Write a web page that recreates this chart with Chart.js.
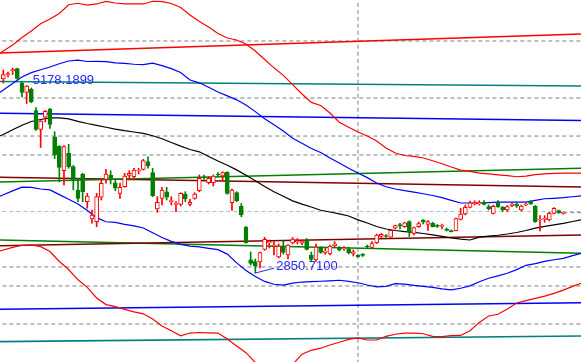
<!DOCTYPE html>
<html>
<head>
<meta charset="utf-8">
<script src="https://cdn.jsdelivr.net/npm/chart.js@4.4.0/dist/chart.umd.min.js"></script>
<style>
html, body { margin: 0; padding: 0; background: #fff; }
canvas { display: block; }
</style>
</head>
<body>
<canvas id="myChart" width="581" height="362"></canvas>
<script>
// daily candles (index 0 .. 120)
const opens = [5053,5099,5144,5172,5008,4900,4940,4694,4482,4619,4713,4398,4293,4013,4210,4058,3794,3975,3661,3464,
  3434,3711,3915,3964,3876,3756,3831,3960,3944,4009,4028,4115,3990,3578,3699,3774,3661,3631,3631,3748,
  3631,3699,3786,3941,3876,3876,3972,3952,3994,3649,3765,3612,3374,3002,2980,2976,3120,3192,3158,3033,
  3147,3056,3192,3203,3189,3220,3056,2999,3132,3086,3067,3161,3141,3127,3120,3075,3056,3056,3158,3143,
  3195,3266,3277,3257,3359,3402,3377,3434,3300,3377,3453,3404,3416,3391,3381,3351,3332,3332,3461,3521,
  3597,3638,3635,3654,3604,3529,3646,3597,3567,3615,3635,3567,3623,3661,3612,3453,3461,3453,3529,3559,3529];
const highs = [5156,5133,5178.1899,5176,5025,4980,4951,4728,4582,4696,4721,4455,4296,4299,4312,4072,3926,3983,3756,3567,
  3756,3915,4028,4013,3915,3870,3983,4013,4040,4040,4142,4171,4040,3718,3824,3824,3718,3661,3763,3774,
  3688,3763,3964,3964,3944,3964,3990,4001,4001,3805,3774,3640,3377,3090,3010,3090,3257,3226,3209,3181,
  3215,3175,3254,3243,3226,3243,3090,3181,3150,3132,3169,3207,3152,3150,3143,3113,3061,3073,3169,3209,
  3294,3300,3288,3340,3396,3416,3427,3445,3374,3430,3459,3445,3427,3402,3408,3362,3340,3476,3586,3623,
  3669,3672,3672,3672,3623,3623,3674,3606,3618,3642,3652,3623,3652,3674,3618,3502,3502,3540,3593,3567,3544];
const lows = [5008,5076,5104,5048,4849,4775,4784,4469,4276,4565,4492,4151,3884,3850,4040,3794,3661,3661,3586,3416,
  3377,3680,3870,3862,3786,3699,3824,3907,3907,3975,4020,4040,3718,3540,3623,3680,3623,3547,3612,3661,
  3612,3688,3774,3915,3862,3839,3944,3907,3745,3561,3661,3490,3189,2942,2850.71,2908,3109,3135,3056,3022,
  3067,3010,3181,3181,3169,3113,2982,2982,3075,3064,3056,3150,3101,3107,3067,3044,3030,3039,3129,3132,
  3186,3254,3254,3254,3351,3351,3370,3266,3283,3368,3408,3334,3374,3368,3351,3328,3317,3328,3453,3510,
  3589,3623,3623,3623,3567,3521,3595,3549,3549,3604,3595,3555,3615,3631,3427,3328,3427,3442,3521,3529,3518];
const closes = [5104,5116,5161,5061,4900,4974,4796,4482,4577,4685,4537,4191,4051,4287,4058,3907,3699,3774,3725,3510,
  3718,3870,3975,3933,3813,3824,3952,3983,4020,4020,4126,4066,3729,3654,3794,3711,3672,3642,3756,3691,
  3654,3748,3926,3933,3926,3952,3964,3990,3756,3794,3672,3510,3195,2961,2931,3084,3234,3207,3166,3158,
  3084,3169,3237,3220,3207,3120,3005,3147,3086,3101,3158,3181,3113,3135,3082,3093,3033,3052,3147,3186,
  3283,3291,3266,3336,3391,3385,3422,3320,3368,3411,3427,3434,3377,3381,3391,3336,3320,3470,3521,3597,
  3649,3654,3649,3631,3578,3608,3604,3567,3604,3635,3612,3612,3635,3635,3434,3464,3472,3529,3586,3532,3536];

// band curves, read every 2nd candle
const bandIdx = [-2,0,2,4,6,8,10,12,14,16,18,20,22,24,26,28,30,32,34,36,38,40,42,44,46,48,50,52,54,56,58,60,
  62,64,66,68,70,72,74,76,78,80,82,84,86,88,90,92,94,96,98,100,102,104,106,108,110,112,114,116,118,120,122,124];
const upperOuter = [5303,5371,5439,5524,5598,5681,5734,5797,5896,5913,5893,5905,5935,5916,5905,5905,5905,5936,5932,5910,
  5865,5780,5706,5644,5570,5519,5496,5451,5371,5274,5180,5095,4990,4883,4788,4753,4667,4562,4505,4452,
  4406,4350,4270,4213,4185,4175,4157,4126,4092,4055,4019,4004,3986,3976,3966,3956,3944,3951,3967,3977,3983,3986,3986,3986];
const upperBand = [4860,4928,5002,5076,5126,5158,5190,5227,5258,5267,5252,5254,5250,5237,5230,5221,5216,5234,5205,5171,
  5127,5042,5010,4959,4906,4862,4817,4758,4683,4602,4534,4463,4380,4325,4265,4220,4157,4099,4041,3986,
  3934,3873,3830,3805,3786,3770,3751,3731,3707,3675,3646,3646,3646,3650,3656,3657,3657,3657,3675,3694,3699,3706,3717,3728];
const midLine = [4378,4423,4477,4529,4571,4594,4611,4611,4600,4572,4548,4528,4506,4485,4467,4452,4437,4409,4375,4333,
  4291,4253,4227,4173,4122,4074,4022,3961,3898,3834,3774,3722,3670,3633,3601,3564,3544,3522,3498,3455,
  3419,3379,3351,3334,3322,3312,3300,3284,3268,3249,3235,3226,3258,3269,3280,3294,3311,3334,3360,3381,3397,3414,3436,3458];
const lowerBand = [3697,3740,3783,3825,3824,3805,3794,3741,3688,3635,3560,3480,3433,3425,3403,3386,3362,3308,3254,3210,
  3176,3156,3147,3132,3116,3066,2966,2880,2812,2756,2724,2715,2737,2749,2754,2758,2763,2769,2757,2741,
  2715,2693,2699,2731,2725,2711,2700,2688,2672,2660,2678,2706,2752,2792,2818,2849,2890,2939,2958,2983,3002,3018,3048,3078];
const lowerOuter = [3084,3112,3142,3166,3169,3150,3095,2982,2891,2774,2689,2568,2493,2470,2439,2411,2388,2329,2250,2197,
  2139,2170,2176,2173,2170,2103,2022,1947,1836,1762,1728,1739,1813,1930,1974,1998,2034,2066,2098,2114,
  2091,2091,2132,2156,2170,2170,2162,2133,2130,2141,2143,2197,2291,2363,2383,2443,2511,2538,2564,2589,2620,2657,2700,2738];

// straight channel lines: value at first and last index
const lineIdx = [-1, 124];
const redLine = [5348, 5564];
const tealLine = [5025, 4974];
const blueLine = [4664, 4582];
const greenLine = [3884, 4040];
const maroonLine = [3938, 3828];
const maroonLine2 = [3161, 3283];
const greenLine2 = [3226, 3075];
const blueLine2 = [2439, 2514];
const tealLine2 = [2072, 2136];

// dashed price levels and the vertical marker
const grayLevels = [5485, 4838, 4406, 4191, 2920, 2704, 2273];
const blueLevel = 3550;
const markerIdx = 76;

// visible window
const xMin = -0.71, xMax = 123.79;
const yMin = 1841.3, yMax = 5950;

const UP = '#ff0000', DOWN = '#008000';
const idx = opens.map((_, i) => i);
const isUp = idx.map(i => closes[i] >= opens[i]);

function pts(xs, ys) {
    return xs.map((x, i) => ({x: x, y: ys[i]}));
}

function line(label, data, color, width, dash, order) {
    return {
        type: 'line', label: label, data: data,
        borderColor: color, borderWidth: width, borderDash: dash || [],
        pointRadius: 0, tension: 0, fill: false, order: order
    };
}

const last = closes.length - 1;
const datasets = [
    {
        type: 'bar', label: 'body', order: 0, grouped: false,
        data: idx.map(i => ({x: i, y: [opens[i], closes[i]]})),
        barThickness: 4, borderWidth: 1, borderSkipped: false, minBarLength: 1,
        backgroundColor: isUp.map(u => u ? '#ffffff' : DOWN),
        borderColor: isUp.map(u => u ? UP : DOWN)
    },
    {
        type: 'bar', label: 'wick', order: 1, grouped: false,
        data: idx.map(i => ({x: i, y: [lows[i], highs[i]]})),
        barThickness: 1, borderWidth: 0,
        backgroundColor: isUp.map(u => u ? UP : DOWN)
    },
    line('upperOuter', pts(bandIdx, upperOuter), '#ff0000', 1.2, null, 2),
    line('upperBand', pts(bandIdx, upperBand), '#0000ff', 1.2, null, 2),
    line('mid', pts(bandIdx, midLine), '#000000', 1.2, null, 2),
    line('lowerBand', pts(bandIdx, lowerBand), '#0000ff', 1.2, null, 2),
    line('lowerOuter', pts(bandIdx, lowerOuter), '#ff0000', 1.2, null, 2),
    line('red', pts(lineIdx, redLine), '#ff0000', 1.6, null, 3),
    line('teal', pts(lineIdx, tealLine), '#008080', 1.6, null, 3),
    line('blue', pts(lineIdx, blueLine), '#0000ff', 1.6, null, 3),
    line('green', pts(lineIdx, greenLine), '#008000', 1.6, null, 3),
    line('maroon', pts(lineIdx, maroonLine), '#800000', 1.6, null, 3),
    line('maroon2', pts(lineIdx, maroonLine2), '#800000', 1.6, null, 3),
    line('green2', pts(lineIdx, greenLine2), '#008000', 1.6, null, 3),
    line('blue2', pts(lineIdx, blueLine2), '#0000ff', 1.6, null, 3),
    line('teal2', pts(lineIdx, tealLine2), '#008080', 1.6, null, 3),
    line('lastClose', pts([last, xMax + 1], [closes[last], closes[last]]), '#808080', 1, [4, 3], 4),
    line('blueLevel', pts([xMin - 1, xMax + 1], [blueLevel, blueLevel]), '#a8c0dc', 1, [4, 3], 4),
    line('marker', pts([markerIdx, markerIdx], [yMin - 100, yMax + 100]), '#808080', 1, [4, 3], 4)
];
grayLevels.forEach(function(v, k) {
    datasets.push(line('level' + k, pts([xMin - 1, xMax + 1], [v, v]), '#808080', 1, [4, 3], 4));
});

// high / low price labels
const extremesPlugin = {
    id: 'extremes',
    afterDatasetsDraw(chart) {
        const ctx = chart.ctx;
        const xs = chart.scales.x, ys = chart.scales.y;
        const hi = highs.indexOf(Math.max(...highs));
        const lo = lows.indexOf(Math.min(...lows));
        ctx.save();
        ctx.font = '13px "Liberation Sans", Arial, sans-serif';
        ctx.fillStyle = '#2828ff';
        ctx.strokeStyle = '#2828ff';
        ctx.lineWidth = 1;
        ctx.textBaseline = 'middle';

        const hx = xs.getPixelForValue(hi), hy = ys.getPixelForValue(highs[hi]);
        ctx.fillText(highs[hi].toFixed(4), hx + 20, hy + 12);

        const lx = xs.getPixelForValue(lo), ly = ys.getPixelForValue(lows[lo]);
        ctx.beginPath();
        ctx.moveTo(lx, ly);
        ctx.lineTo(lx + 19, ly - 5);
        ctx.stroke();
        ctx.fillText(lows[lo].toFixed(4), lx + 21, ly - 6.5);
        ctx.restore();
    }
};

const chart = new Chart(document.getElementById('myChart').getContext('2d'), {
    type: 'bar',
    data: { datasets: datasets },
    options: {
        responsive: false,
        animation: false,
        events: [],
        layout: { padding: 0 },
        plugins: { legend: { display: false }, tooltip: { enabled: false } },
        scales: {
            x: { type: 'linear', min: xMin, max: xMax, display: false, offset: false },
            y: { type: 'linear', min: yMin, max: yMax, display: false, beginAtZero: false }
        }
    },
    plugins: [extremesPlugin]
});
</script>
</body>
</html>
